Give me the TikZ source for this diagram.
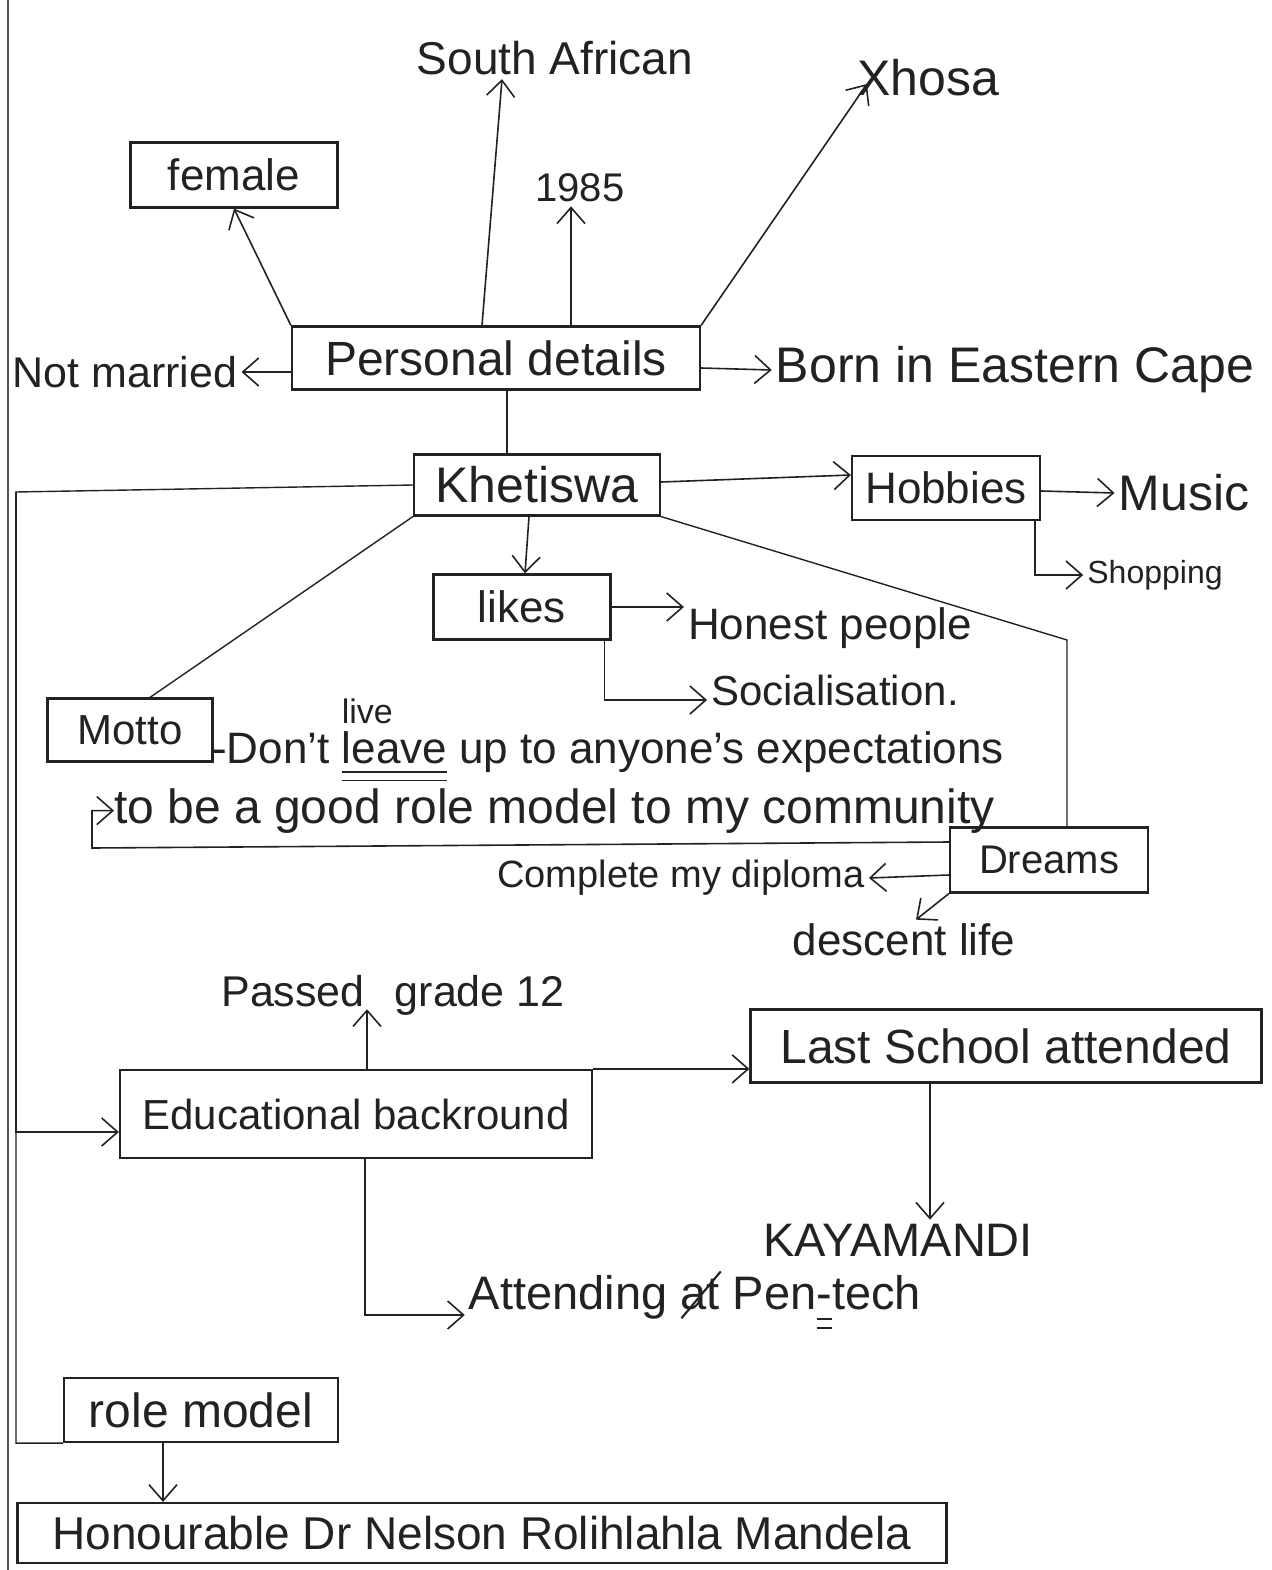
\documentclass[tikz,border=0pt]{standalone}
\usepackage{fontspec}
\setmainfont{Liberation Sans}
\usepackage{graphicx}
\usepackage{tikz}
\usetikzlibrary{arrows.meta, positioning, calc}
\definecolor{inkGray}{HTML}{222222}
\definecolor{edgeGray}{HTML}{555555}
\newcommand{\hand}[1]{\fontsize{#1}{#1}\selectfont}
\newsavebox{\markbox}
\newcommand{\dblul}[1]{\sbox{\markbox}{#1}\rlap{\rule[-0.22em]{\wd\markbox}{0.045em}}\rlap{\rule[-0.42em]{\wd\markbox}{0.045em}}\usebox{\markbox}}
\newcommand{\slashout}[1]{\rlap{\raisebox{-0.2em}{\rotatebox{50}{\rule{1.3em}{0.045em}}}}#1}

\begin{document}
\begin{tikzpicture}[
    x=1pt, y=-1pt,
    box/.style={rectangle, draw=inkGray, line width=2.2pt, inner sep=0pt, text centered, text=inkGray, font=\hand{46}},
    lbl/.style={inner sep=4pt, text=inkGray, font=\hand{46}},
    arr/.style={-{Straight Barb[length=16pt, width=28pt]}, line width=1.6pt, inkGray},
    link/.style={line width=1.4pt, inkGray}
]
\useasboundingbox (0,0) rectangle (1271,1570);
\draw[line width=2.5pt, edgeGray] (8,0) -- (8,1570);

% personal details
\node[box, minimum width=408pt, minimum height=63pt, font=\hand{48}] (pd) at (496,358) {Personal details};
\node[lbl] (sa) at (555,58) {South African};
\node[lbl, font=\hand{50}] (xh) at (928,78) {Xhosa};
\node[box, minimum width=207pt, minimum height=65pt, font=\hand{44}] (fem) at (234,175) {female};
\node[lbl, font=\hand{40}] (yr) at (580,188) {1985};
\node[lbl, font=\hand{43}] (nm) at (125,372) {Not married};
\node[lbl, font=\hand{50}] (born) at (1015,370) {Born in Eastern Cape};

% centre
\node[box, minimum width=246pt, minimum height=61pt, font=\hand{50}] (kh) at (537,485) {Khetiswa};
\node[box, minimum width=188pt, minimum height=64pt, font=\hand{44}] (hob) at (946,488) {Hobbies};
\node[lbl, font=\hand{50}] (mus) at (1184,493) {Music};
\node[lbl, font=\hand{32}] (shop) at (1155,575) {Shopping};
\node[box, minimum width=177pt, minimum height=65pt, font=\hand{44}] (lk) at (522,607) {likes};
\node[lbl, font=\hand{44}] (hp) at (830,628) {Honest people};
\node[lbl, font=\hand{42}] (soc) at (835,690) {Socialisation.};

% motto and dreams
\node[box, minimum width=165pt, minimum height=63pt, font=\hand{42}] (mot) at (130,730) {Motto};
\node[lbl, anchor=base west, inner sep=0pt, font=\hand{44}] (mot1) at (212,763)
    {-Don't \makebox[0pt][l]{\raisebox{0.9em}{\hand{34}live}}\dblul{leave} up to anyone's expectations};
\node[lbl, anchor=base west, inner sep=0pt, font=\hand{48}] (mot2) at (114,823)
    {to be a good role model to my community};
\node[box, minimum width=198pt, minimum height=65pt, font=\hand{40}] (drm) at (1049,860) {Dreams};
\node[lbl, font=\hand{38}] (dip) at (681,878) {Complete my diploma};
\node[lbl, font=\hand{44}] (dl) at (904,940) {descent life};

% education
\node[lbl, font=\hand{43}] (pg) at (393,995) {Passed\hspace{0.7em}grade 12};
\node[box, minimum width=472pt, minimum height=88pt, font=\hand{42}] (edu) at (356,1114) {Educational backround};
\node[box, minimum width=511pt, minimum height=73pt, font=\hand{48}] (lsa) at (1006,1046) {Last School attended};
\node[lbl, font=\hand{47}] (kay) at (898,1240) {KAYAMANDI};
\node[lbl, font=\hand{47}] (att) at (695,1300) {Attending \slashout{at} Pen\dblul{-}tech};

% role model
\node[box, minimum width=274pt, minimum height=64pt, font=\hand{48}] (rm) at (201,1410) {role model};
\node[box, minimum width=929pt, minimum height=60pt, font=\hand{46}] (mdl) at (482,1533) {Honourable Dr Nelson Rolihlahla Mandela};

\coordinate (spine) at (16,492);
\coordinate (dturn) at (1067,640);
\coordinate (mturn) at (92,848);

\draw[arr] ([yshift=-14pt]pd.west) -- (nm.east);
\draw[arr] ([yshift=-10pt]pd.east) -- (born.west);
\draw[arr] (pd.north west) -- (fem.south);
\draw[arr] ([xshift=-14pt]pd.north) -- ([xshift=-53pt]sa.south);
\draw[arr] ([xshift=75pt]pd.north) -- ([xshift=-9pt]yr.south);
\draw[arr] (pd.north east) -- ([xshift=14pt, yshift=-6pt]xh.west);
\draw[link] ([xshift=11pt]pd.south) -- ([xshift=-30pt]kh.north);

\draw[link] (kh.west) -- (spine) |- (rm.south west);
\draw[arr] (spine) |- ([yshift=-18pt]edu.west);
\draw[arr] ([yshift=3pt]kh.east) -- ([yshift=13pt]hob.west);
\draw[arr] ([yshift=-3pt]hob.east) -- (mus.west);
\draw[arr] ([xshift=-6pt]hob.south east) |- (shop.west);
\draw[arr] ([xshift=-8pt]kh.south) -- ([xshift=3pt]lk.north);
\draw[arr] (lk.east) -- (lk.east -| hp.west);
\draw[arr] ([xshift=-7pt]lk.south east) |- ([yshift=-10pt]soc.west);
\draw[link] (kh.south west) -- ([xshift=20pt]mot.north);
\draw[link] (kh.south east) -- (dturn) -- (dturn |- drm.north);

\draw[arr] ([yshift=18pt]drm.west) -- (mturn) |- (mot2.west);
\draw[arr] ([yshift=-15pt]drm.west) -- (dip.east);
\draw[arr] (drm.south west) -- ([xshift=12pt]dl.north);

\draw[arr] ([xshift=11pt]edu.north) -- ([xshift=-26pt, yshift=10pt]pg.south);
\draw[arr] (edu.north east) -- (edu.north east -| lsa.west);
\draw[arr] ([xshift=-76pt]lsa.south) -- ([xshift=32pt]kay.north);
\draw[arr] ([xshift=9pt]edu.south) |- ([yshift=-15pt]att.west);
\draw[arr] ([xshift=-38pt]rm.south) -- ([xshift=-319pt]mdl.north);
\end{tikzpicture}
\end{document}
